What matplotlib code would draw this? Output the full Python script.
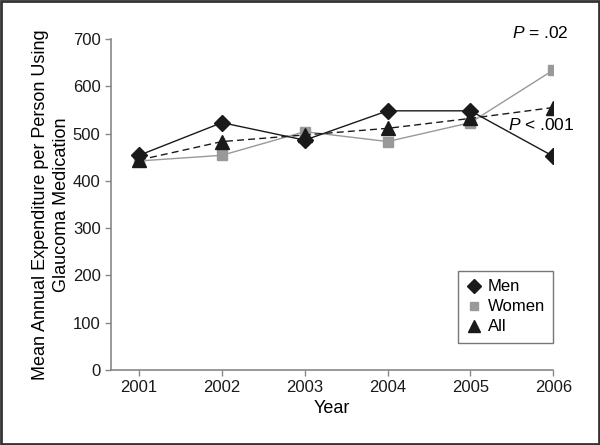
import matplotlib.pyplot as plt
from matplotlib.patches import Rectangle

years = [2001, 2002, 2003, 2004, 2005, 2006]
men = [454, 523, 486, 548, 548, 452]
women = [442, 454, 504, 483, 523, 634]
all_people = [444, 483, 497, 511, 532, 555]

plt.rcParams['font.family'] = ['Liberation Sans', 'DejaVu Sans']
plt.rcParams['mathtext.fontset'] = 'custom'
plt.rcParams['mathtext.it'] = 'Liberation Sans:italic'
plt.rcParams['mathtext.rm'] = 'Liberation Sans'

fig = plt.figure(figsize=(6, 4.45), dpi=100)
ax = fig.add_axes([0.185, 0.1685, 0.737, 0.744])

ax.plot(years, men, color='#1a1a1a', lw=1, marker='D', ms=8, label='Men', zorder=4)
ax.plot(years, women, color='#999999', lw=1, marker='s', ms=7, label='Women', zorder=3)
ax.plot(years, all_people, color='#1a1a1a', lw=1, ls=(0, (5, 3)), marker='^', ms=10, label='All', zorder=5)

ax.set_xlim(2000.66, 2006)
ax.set_ylim(0, 700)
ax.set_xticks(years)
ax.set_yticks(range(0, 701, 100))
ax.tick_params(labelsize=12, length=4, width=1, colors='#1a1a1a')
ax.tick_params(color='#888888')
for s in ['top', 'right']:
    ax.spines[s].set_visible(False)
for s in ['left', 'bottom']:
    ax.spines[s].set_color('#888888')
    ax.spines[s].set_linewidth(1.2)

ax.set_xlabel('Year', fontsize=13, labelpad=3)
ax.set_ylabel('Mean Annual Expenditure per Person Using\nGlaucoma Medication', fontsize=13,
              labelpad=2, linespacing=1.3)

ax.text(2005.84, 712, '$P$ = .02', fontsize=12.5, ha='center', va='center', clip_on=False)
ax.text(2005.86, 518, '$P$ < .001', fontsize=12.5, ha='center', va='center')

leg = ax.legend(loc='upper right', bbox_to_anchor=(1.0, 0.299), borderaxespad=0, fontsize=12,
                frameon=True, fancybox=False, handlelength=0.9, handletextpad=0.35, borderpad=0.5,
                labelspacing=0.3, edgecolor='#555555', markerscale=0.85)
leg.get_frame().set_linewidth(1)
for h in leg.legend_handles:
    h.set_linestyle('None')

fig.patches.append(Rectangle((0.002, 0.003), 0.996, 0.994, transform=fig.transFigure,
                             fill=False, edgecolor='#333333', lw=2))

fig.savefig('out.png', dpi=100)
